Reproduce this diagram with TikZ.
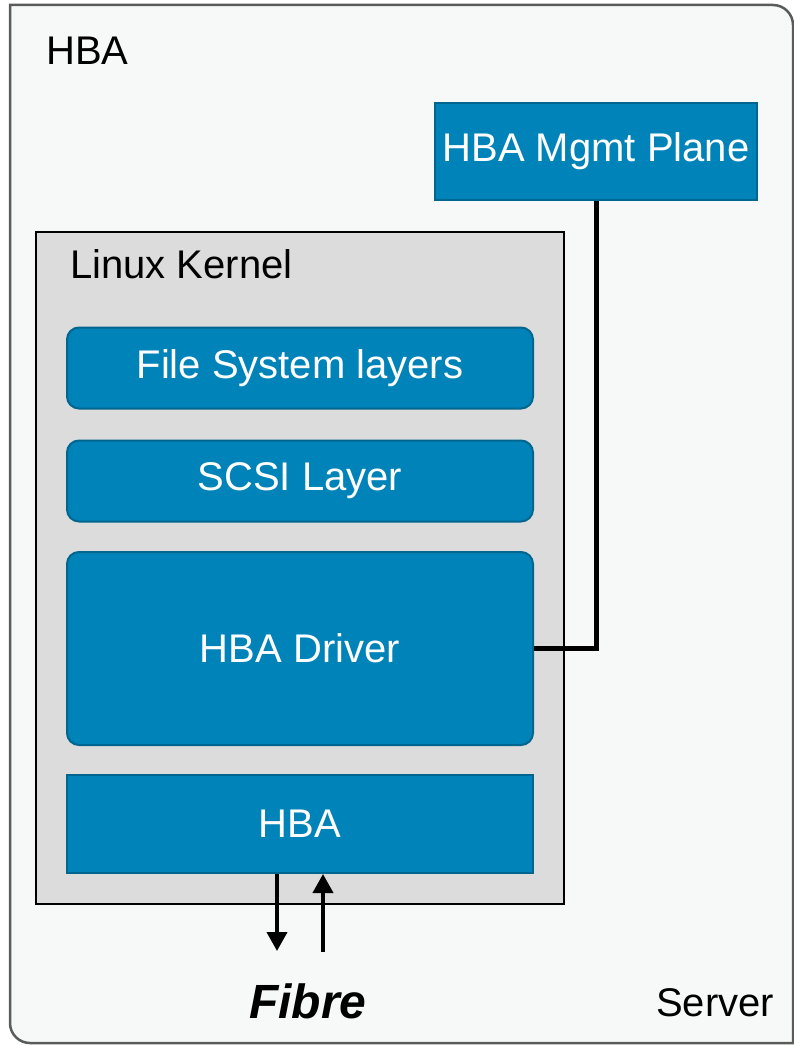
\documentclass[tikz,border=0pt]{standalone}
\usepackage{fontspec}
\setmainfont{Liberation Sans}
\usetikzlibrary{arrows.meta}
\definecolor{boxblue}{HTML}{0083B8}
\definecolor{boxedge}{HTML}{00668F}
\definecolor{kernelgray}{HTML}{DCDCDC}
\definecolor{serverfill}{HTML}{F7F9F8}
\definecolor{serveredge}{HTML}{5A5C5A}
\begin{document}
\begin{tikzpicture}[x=1pt,y=-1pt,
  bigtext/.style={font=\fontsize{40}{47}\selectfont},
  bluebox/.style={draw=boxedge, line width=2pt, fill=boxblue, text=white,
    bigtext, inner sep=0pt},
  layer/.style={bluebox, rounded corners=12pt, minimum width=466pt},
  label/.style={bigtext, anchor=base west, inner sep=0pt},
  link/.style={line width=5pt, black},
  fibrearrow/.style={line width=4pt, black, -{Triangle[width=20pt,length=19pt]}}]
  \useasboundingbox (0,0) rectangle (794,1046);

  % server enclosure (y grows downwards here)
  \draw[serveredge, line width=2.5pt, fill=serverfill]
    (10,5) -- (773,5) arc[start angle=270, end angle=360, radius=20]
    -- (793,1043) -- (30,1043) arc[start angle=90, end angle=180, radius=20]
    -- cycle;
  \node[label] (hbatitle) at (46,65) {HBA};
  \node[label] (server) at (656,1016) {Server};

  % kernel
  \node[draw=black, line width=2pt, fill=kernelgray, minimum width=528pt,
    minimum height=672pt, inner sep=0pt] (kernel) at (300,568) {};
  \node[label] (kernellabel) at (70,278) {Linux Kernel};

  \node[layer, minimum height=81pt] (fs) at (300,368) {File System layers};
  \node[layer, minimum height=81pt] (scsi) at (300,481) {SCSI Layer};
  \node[layer, minimum height=193pt] (driver) at (300,648.5) {HBA Driver};
  \node[bluebox, minimum width=466pt, minimum height=98pt] (hba) at (300,824) {HBA};

  \node[bluebox, minimum width=322pt, minimum height=97pt] (mgmt) at (596,151.5) {HBA Mgmt Plane};

  % management link
  \draw[link] (driver.east) -| (mgmt.south);

  % fibre channel in/out
  \coordinate (outend) at (277,951);
  \coordinate (intail) at (323,952);
  \draw[fibrearrow] (hba.south -| outend) -- (outend);
  \draw[fibrearrow] (intail) -- (hba.south -| intail);
  \node[anchor=base west, inner sep=0pt,
    font=\fontsize{48}{54}\selectfont\bfseries\itshape] (fibre) at (249,1018) {Fibre};
\end{tikzpicture}
\end{document}
